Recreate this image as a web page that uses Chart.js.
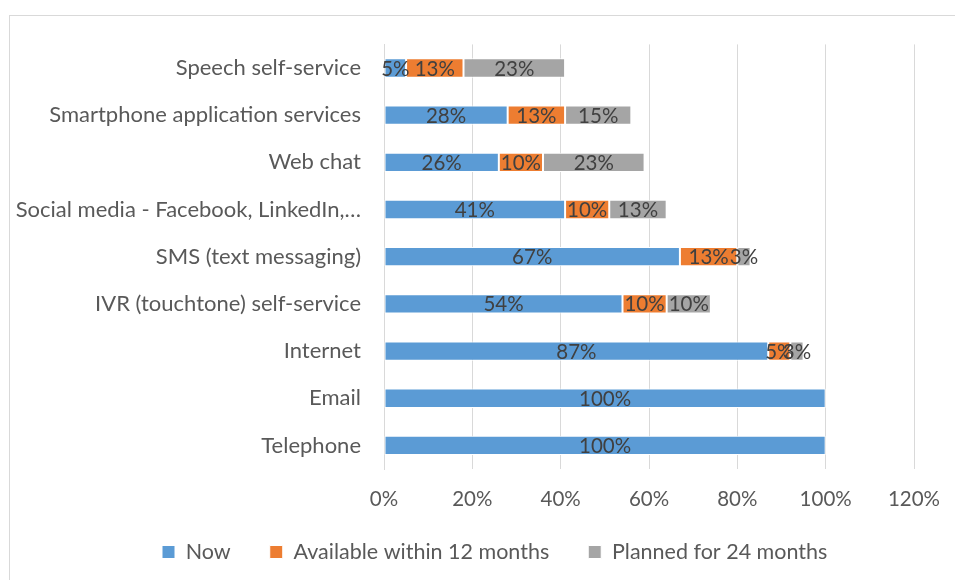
<!DOCTYPE html>
<html>
<head>
<meta charset="utf-8">
<script src="https://cdn.jsdelivr.net/npm/chart.js@4.4.1/dist/chart.umd.min.js"></script>
<style>
  html, body { margin: 0; padding: 0; background: #fff; }
  #wrap { position: relative; width: 955px; height: 580px; }
</style>
</head>
<body>
<div id="wrap"><canvas id="channelChart" width="955" height="580"></canvas></div>
<script>
const channels = [
  'Speech self-service',
  'Smartphone application services',
  'Web chat',
  'Social media - Facebook, LinkedIn,\u2026',
  'SMS (text messaging)',
  'IVR (touchtone) self-service',
  'Internet',
  'Email',
  'Telephone'
];
const nowValues = [5, 28, 26, 41, 67, 54, 87, 100, 100];
const within12Values = [13, 13, 10, 10, 13, 10, 5, 0, 0];
const planned24Values = [23, 15, 23, 13, 3, 10, 3, 0, 0];
const xTicks = [0, 20, 40, 60, 80, 100, 120];

const FONT = 'Lato, "Open Sans", sans-serif';
const LEGEND_START = 162; // x of the first legend box
const LEGEND_MID_Y = 552; // middle of the legend text

// light frame round the chart, like the office export
const framePlugin = {
  id: 'frame',
  beforeDraw(chart) {
    const ctx = chart.ctx;
    ctx.save();
    ctx.strokeStyle = '#d9d9d9';
    ctx.lineWidth = 1;
    ctx.strokeRect(9.5, 15.5, 1000, 1000);
    ctx.restore();
  }
};

// the office legend sits a bit right of centre
const legendShift = {
  id: 'legendShift',
  afterLayout(chart) {
    const lg = chart.legend;
    if (!lg || !lg.lineWidths) return;
    const pad = lg.options.labels.padding;
    const size = lg.options.labels.font.size;
    const start = (lg.left + pad + lg.right - lg.lineWidths[0]) / 2;
    const dx = LEGEND_START - start;
    lg.left += dx;
    lg.right += dx;
    const dy = LEGEND_MID_Y - (lg.top + pad + size / 2);
    lg.top += dy;
    lg.bottom += dy;
  }
};

// percentage written in the middle of each segment
const segmentLabels = {
  id: 'segmentLabels',
  afterDatasetsDraw(chart) {
    const ctx = chart.ctx;
    ctx.save();
    ctx.font = '20.5px ' + FONT;
    ctx.fillStyle = '#404040';
    ctx.textAlign = 'center';
    ctx.textBaseline = 'middle';
    chart.data.datasets.forEach((ds, i) => {
      chart.getDatasetMeta(i).data.forEach((bar, j) => {
        const v = ds.data[j];
        if (!v) return;
        const c = bar.getCenterPoint();
        ctx.fillText(v + '%', c.x, c.y + 1);
      });
    });
    ctx.restore();
  }
};

function makeSet(label, values, color) {
  return {
    label: label,
    data: values,
    backgroundColor: color,
    borderColor: '#ffffff',
    borderWidth: 1,
    borderSkipped: false,
    barPercentage: 0.41,
    categoryPercentage: 1
  };
}

const canvas = document.getElementById('channelChart');
new Chart(canvas.getContext('2d'), {
  type: 'bar',
  data: {
    labels: channels,
    datasets: [
      makeSet('Now', nowValues, '#5b9bd5'),
      makeSet('Available within 12 months', within12Values, '#ed7d31'),
      makeSet('Planned for 24 months', planned24Values, '#a5a5a5')
    ]
  },
  options: {
    indexAxis: 'y',
    responsive: false,
    animation: false,
    layout: { padding: { left: 0, right: 41, top: 44.4, bottom: 0 } },
    plugins: {
      legend: {
        position: 'bottom',
        labels: {
          color: '#595959',
          font: { family: FONT, size: 21.5 },
          boxWidth: 13,
          boxHeight: 13,
          padding: 39
        }
      },
      tooltip: { enabled: false }
    },
    scales: {
      x: {
        stacked: true,
        min: 0,
        max: 120,
        afterBuildTicks(scale) {
          scale.ticks = xTicks.map(v => ({ value: v }));
        },
        afterFit(scale) {
          scale.height = 40.5;
          scale.paddingLeft = 0;
          scale.paddingRight = 0;
        },
        ticks: {
          color: '#595959',
          font: { family: FONT, size: 20.5 },
          padding: 18,
          callback: v => v + '%'
        },
        grid: { color: '#d9d9d9', drawTicks: false },
        border: { display: false }
      },
      y: {
        stacked: true,
        afterFit(scale) { scale.width = 384; },
        ticks: {
          color: '#595959',
          font: { family: FONT, size: 22 },
          padding: 23
        },
        grid: { display: false, drawTicks: false },
        border: { display: true, color: '#d9d9d9', width: 1 }
      }
    }
  },
  plugins: [framePlugin, legendShift, segmentLabels]
});
</script>
</body>
</html>
